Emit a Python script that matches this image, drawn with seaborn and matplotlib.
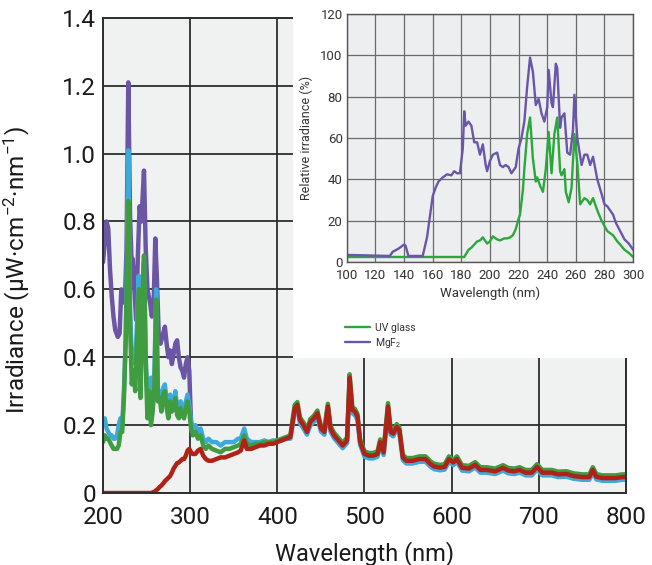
import numpy as np
import pandas as pd
import seaborn as sns
import matplotlib.pyplot as plt
from matplotlib.patches import Rectangle

# ---- main spectrum (200-800 nm), shared wavelength grid ----
wl_main = [200, 202, 204, 206, 208, 210, 212, 214, 216, 218, 220, 222, 224,
           226, 227,
           229, 231, 233, 235, 237, 239, 241, 243, 245, 247, 249, 251, 253, 255, 257, 259, 261, 263,
           265, 267, 269, 271, 273, 275, 277, 279, 281, 283, 285, 287, 289, 291, 293, 295, 297, 299,
           301, 303,
           306, 309, 312, 315, 318, 321,
           325, 330, 335, 340, 345, 350, 355,
           358, 362, 365,
           370, 375, 380, 385, 390, 395, 400, 405, 410, 415, 420,
           423, 426, 430, 434, 438, 442, 446, 450, 454, 458, 461, 465,
           470, 475, 480, 483, 486, 489, 492, 495, 500,
           505, 510, 515, 518, 522, 527, 530, 533, 537, 540, 544, 548,
           555, 563, 570, 576, 580, 587, 592, 597, 602, 606, 612, 620,
           627, 633, 640, 650, 659, 665, 672, 678, 685, 692, 698, 704,
           715, 722, 732, 740, 750, 758, 762, 766, 773, 780, 788, 796, 800]

blue_main = [0.20, 0.22, 0.19, 0.18, 0.17, 0.17, 0.16, 0.16, 0.17, 0.20, 0.22, 0.20, 0.30,
             0.45, 0.60,
             1.01, 0.55, 0.40, 0.42, 0.38, 0.50, 0.64, 0.38, 0.60, 0.68, 0.40, 0.28, 0.33, 0.34, 0.27, 0.35, 0.60, 0.30,
             0.30, 0.27, 0.31, 0.32, 0.27, 0.25, 0.29, 0.26, 0.27, 0.30, 0.25, 0.24, 0.27, 0.25, 0.24, 0.27, 0.29, 0.26,
             0.21, 0.19,
             0.20, 0.18, 0.19, 0.16, 0.15, 0.16,
             0.15, 0.15, 0.14, 0.15, 0.15, 0.15, 0.16,
             0.16, 0.19, 0.16,
             0.15, 0.15, 0.15, 0.155, 0.15, 0.155, 0.155, 0.155, 0.16, 0.16, 0.24,
             0.25, 0.205, 0.19, 0.172, 0.20, 0.21, 0.225, 0.181, 0.172, 0.245, 0.181, 0.162,
             0.147, 0.132, 0.147, 0.325, 0.235, 0.23, 0.215, 0.142, 0.107,
             0.102, 0.102, 0.107, 0.142, 0.112, 0.245, 0.172, 0.167, 0.187, 0.177, 0.097, 0.087,
             0.087, 0.092, 0.092, 0.077, 0.07, 0.067, 0.069, 0.092, 0.082, 0.092, 0.066, 0.064,
             0.075, 0.06, 0.06, 0.056, 0.066, 0.058, 0.056, 0.06, 0.052, 0.052, 0.069, 0.052,
             0.052, 0.047, 0.048, 0.042, 0.039, 0.039, 0.06, 0.04, 0.036, 0.036, 0.036, 0.039, 0.039]

green_main = [0.15, 0.17, 0.16, 0.16, 0.15, 0.14, 0.13, 0.13, 0.13, 0.14, 0.18, 0.18, 0.28,
              0.45, 0.58,
              0.86, 0.50, 0.32, 0.36, 0.30, 0.45, 0.60, 0.28, 0.55, 0.70, 0.38, 0.22, 0.30, 0.20, 0.24, 0.32, 0.57, 0.27,
              0.28, 0.24, 0.29, 0.30, 0.25, 0.22, 0.27, 0.24, 0.25, 0.28, 0.23, 0.22, 0.25, 0.23, 0.22, 0.25, 0.27, 0.24,
              0.19, 0.17,
              0.18, 0.16, 0.17, 0.14, 0.13, 0.14,
              0.13, 0.125, 0.12, 0.13, 0.13, 0.135, 0.14,
              0.145, 0.17, 0.145,
              0.14, 0.145, 0.145, 0.15, 0.15, 0.15, 0.155, 0.16, 0.165, 0.17, 0.26,
              0.268, 0.223, 0.208, 0.188, 0.218, 0.228, 0.243, 0.198, 0.188, 0.263, 0.198, 0.178,
              0.163, 0.148, 0.163, 0.35, 0.253, 0.248, 0.233, 0.158, 0.123,
              0.118, 0.118, 0.123, 0.158, 0.128, 0.265, 0.188, 0.183, 0.203, 0.193, 0.113, 0.103,
              0.103, 0.108, 0.108, 0.093, 0.086, 0.083, 0.085, 0.108, 0.098, 0.108, 0.082, 0.08,
              0.091, 0.076, 0.076, 0.072, 0.082, 0.074, 0.072, 0.076, 0.068, 0.068, 0.085, 0.068,
              0.068, 0.063, 0.064, 0.058, 0.055, 0.055, 0.076, 0.056, 0.052, 0.052, 0.052, 0.055, 0.055]

red_main = [0, 0, 0, 0, 0, 0, 0, 0, 0, 0, 0, 0, 0,
            0, 0,
            0, 0, 0, 0, 0, 0, 0, 0, 0, 0, 0, 0, 0, 0, 0.002, 0.004, 0.008, 0.012,
            0.018, 0.022, 0.028, 0.035, 0.04, 0.045, 0.05, 0.06, 0.072, 0.08, 0.088, 0.09, 0.095, 0.10, 0.10, 0.11, 0.125, 0.13,
            0.12, 0.115,
            0.115, 0.125, 0.13, 0.11, 0.10, 0.095,
            0.095, 0.10, 0.105, 0.105, 0.11, 0.115, 0.12,
            0.125, 0.155, 0.13,
            0.13, 0.135, 0.14, 0.14, 0.145, 0.145, 0.15, 0.155, 0.16, 0.165, 0.25,
            0.26, 0.215, 0.20, 0.18, 0.21, 0.22, 0.235, 0.19, 0.18, 0.255, 0.19, 0.17,
            0.155, 0.14, 0.155, 0.34, 0.245, 0.24, 0.225, 0.15, 0.115,
            0.11, 0.11, 0.115, 0.15, 0.12, 0.255, 0.18, 0.175, 0.195, 0.185, 0.105, 0.095,
            0.095, 0.10, 0.10, 0.085, 0.078, 0.075, 0.077, 0.10, 0.09, 0.10, 0.074, 0.072,
            0.083, 0.068, 0.068, 0.064, 0.074, 0.066, 0.064, 0.068, 0.06, 0.06, 0.077, 0.06,
            0.06, 0.055, 0.056, 0.05, 0.047, 0.047, 0.068, 0.048, 0.044, 0.044, 0.044, 0.047, 0.047]

# MgF2 window in the main plot (only the short-wavelength part differs)
wl_mgf2_main = [200, 202, 204, 206, 208, 210, 212, 214, 217, 219, 221, 223, 225, 227, 229, 231, 233, 234,
                236, 238, 240, 242, 244, 246, 247, 249, 251, 254, 256, 258, 260, 262, 264, 266, 268, 271,
                273, 275, 277, 279, 281, 283, 285, 287, 289, 291, 293, 295, 297, 299, 300, 301, 303]
purple_main = [0.68, 0.74, 0.80, 0.78, 0.66, 0.58, 0.52, 0.48, 0.46, 0.47, 0.60, 0.58, 0.56, 0.72, 1.21, 0.82, 0.66, 0.69,
               0.60, 0.51, 0.70, 0.845, 0.80, 0.90, 0.95, 0.72, 0.60, 0.56, 0.52, 0.55, 0.75, 0.62, 0.46, 0.44, 0.46, 0.49,
               0.44, 0.40, 0.42, 0.38, 0.41, 0.44, 0.45, 0.40, 0.37, 0.36, 0.34, 0.38, 0.40, 0.36, 0.28, 0.21, 0.19]

# ---- inset: relative irradiance 100-300 nm ----
wl_uv = [100, 182, 185, 187, 189, 191, 193, 195, 198, 200, 202, 205, 207, 210, 212, 214, 216, 218, 220, 221,
         223, 224, 226, 228, 230, 232, 233, 235, 237, 239, 241, 243, 245, 247, 249, 250, 252, 253, 255, 257,
         259, 261, 263, 266, 268, 270, 272, 275, 278, 282, 284, 286, 289, 291, 294, 297, 300]
rel_uv = [2.5, 2.5, 6, 7, 8.5, 10, 10.5, 12, 9, 10, 12.5, 11, 10.5, 11.5, 11.5, 12, 13, 16, 21, 23,
          35, 45, 62, 70, 50, 39, 41, 37, 34, 45, 63, 43, 62, 70, 44, 42, 45, 34, 29, 36,
          62, 48, 28, 31, 30, 28, 31, 25, 20, 15, 14, 13, 10, 8.5, 6, 4.5, 2.5]

wl_mgf2 = [100, 130, 132, 136, 140, 141, 143, 153, 156, 158, 160, 162, 164, 167, 170, 173, 175, 177, 179, 181,
           182, 183, 185, 187, 189, 191, 193, 195, 197, 198, 200, 202, 205, 207, 209, 211, 213, 215, 218, 220,
           222, 224, 226, 228, 230, 232, 234, 236, 238, 240, 241, 243, 244, 246, 247, 249, 250, 252, 254, 256,
           258, 259, 261, 264, 266, 268, 270, 272, 275, 278, 280, 282, 284, 286, 288, 291, 294, 297, 300]
rel_mgf2 = [3.5, 3, 5, 6.5, 8.5, 8, 3, 3, 12, 22, 32, 36, 39, 41, 42.5, 42, 44, 43, 43, 55,
            73, 66, 68, 66, 58, 58, 52, 57, 47, 44, 49, 52, 53, 47, 46, 47, 46, 43, 46, 55,
            60, 68, 85, 99, 92, 76, 79, 72, 68, 75, 93, 77, 75, 96, 94, 65, 70, 72, 53, 52,
            64, 81, 60, 47, 52, 52, 47, 51, 40, 33, 28, 27, 25, 23, 19, 15, 11, 9, 6]

sns.set_style("white")
plt.rcParams['font.family'] = ['Roboto', 'DejaVu Sans']
plt.rcParams['mathtext.fontset'] = 'custom'
plt.rcParams['mathtext.rm'] = 'Roboto'
plt.rcParams['mathtext.it'] = 'Roboto:italic'

fig = plt.figure(figsize=(6.52, 5.65), dpi=100)
ax = fig.add_axes([0.158, 0.1274, 0.802, 0.841])

df_main = pd.DataFrame({'wl': wl_main, 'blue': blue_main, 'green': green_main, 'red': red_main})
df_mg = pd.DataFrame({'wl': wl_mgf2_main, 'val': purple_main})

lw = 3.2
sns.lineplot(data=df_mg, x='wl', y='val', ax=ax, color='#6a56a4', lw=lw, sort=False, estimator=None)
sns.lineplot(data=df_main, x='wl', y='blue', ax=ax, color='#3eaadc', lw=lw, sort=False, estimator=None)
sns.lineplot(data=df_main, x='wl', y='green', ax=ax, color='#3f9c40', lw=lw, sort=False, estimator=None)
sns.lineplot(data=df_main, x='wl', y='red', ax=ax, color='#b02217', lw=lw, sort=False, estimator=None)

ax.set_facecolor('#f0f1f1')
ax.set_xlim(200, 800)
ax.set_ylim(0, 1.4)
ax.set_xticks(np.arange(200, 801, 100))
ax.set_yticks(np.arange(0, 1.41, 0.2))
ax.set_yticklabels(['0', '0.2', '0.4', '0.6', '0.8', '1.0', '1.2', '1.4'])
ax.grid(True, color='#2e2e2e', lw=1.3)
ax.set_axisbelow(True)
for s in ax.spines.values():
    s.set_color('#2e2e2e')
    s.set_linewidth(1.4)
ax.tick_params(length=0, labelsize=17.5, colors='#1a1a1a')
ax.tick_params(axis='x', pad=9)
ax.tick_params(axis='y', pad=5)
ax.set_xlabel('Wavelength (nm)', fontsize=17, color='#1a1a1a', labelpad=9)
ax.set_ylabel(r'Irradiance (μW·cm$^{-2}$·nm$^{-1}$)', fontsize=17.5, color='#1a1a1a')
ax.yaxis.set_label_coords(-0.135, 0.47)

# white panel behind inset
fig.add_artist(Rectangle((0.449, 0.366), 0.551, 0.634, transform=fig.transFigure,
                         facecolor='white', edgecolor='none', zorder=1))

axin = fig.add_axes([0.532, 0.536, 0.439, 0.439], zorder=2)
df_uv = pd.DataFrame({'wl': wl_uv, 'rel': rel_uv})
df_mgi = pd.DataFrame({'wl': wl_mgf2, 'rel': rel_mgf2})
sns.lineplot(data=df_uv, x='wl', y='rel', ax=axin, color='#2aa83a', lw=1.7, sort=False,
             estimator=None, label='UV glass', legend=False)
sns.lineplot(data=df_mgi, x='wl', y='rel', ax=axin, color='#6a56a8', lw=1.7, sort=False,
             estimator=None, label='MgF$_2$', legend=False)
axin.set_facecolor('#eceef0')
axin.set_xlim(100, 300)
axin.set_ylim(0, 120)
axin.set_xticks(np.arange(100, 301, 20))
axin.set_yticks(np.arange(0, 121, 20))
axin.grid(True, color='#6a6a6a', lw=0.9)
axin.set_axisbelow(True)
for s in axin.spines.values():
    s.set_color('#555555')
    s.set_linewidth(1.0)
axin.tick_params(length=0, labelsize=9.5, colors='#333333')
axin.tick_params(axis='x', pad=5)
axin.tick_params(axis='y', pad=3)
axin.set_xlabel('Wavelength (nm)', fontsize=9.5, color='#333333', labelpad=3)
axin.set_ylabel('Relative irradiance (%)', fontsize=9, color='#333333', labelpad=5)

handles, labels = axin.get_legend_handles_labels()
fig.legend(handles, labels, loc='upper left', bbox_to_anchor=(0.515, 0.445), frameon=False,
           fontsize=7.5, handlelength=2.4, handletextpad=0.5, labelspacing=0.25,
           labelcolor='#333333')

plt.savefig('out.png', dpi=100)
